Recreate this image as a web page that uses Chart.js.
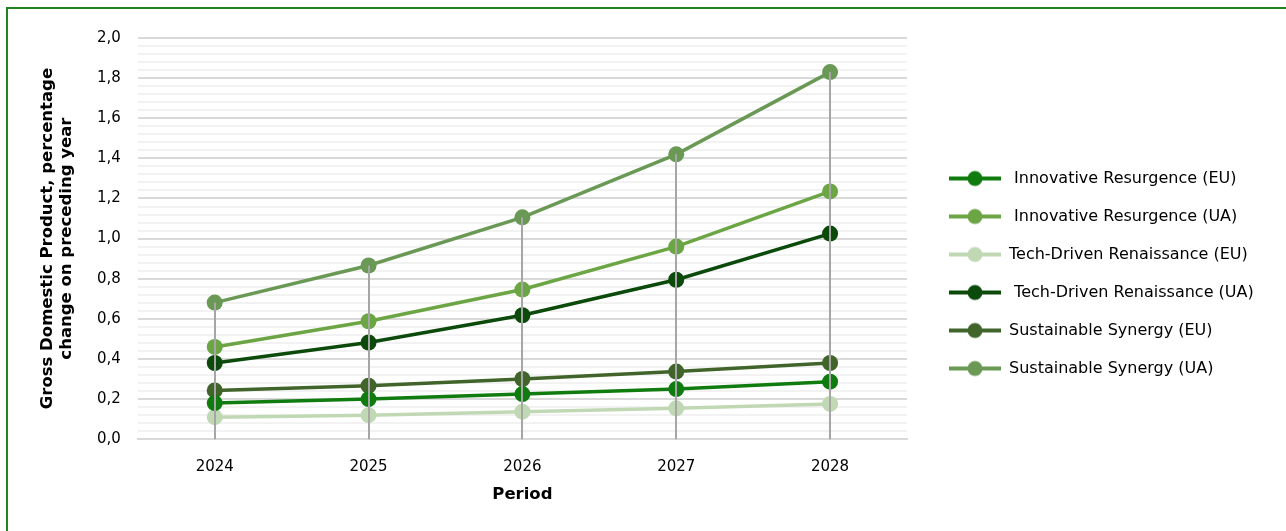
<!DOCTYPE html>
<html>
<head>
<meta charset="utf-8">
<script src="https://cdn.jsdelivr.net/npm/chart.js@4"></script>
<style>
  html, body { margin: 0; padding: 0; background: #fff; overflow: hidden; }
  #frame { position: absolute; left: 6px; top: 7px; width: 1400px; height: 600px; border-top: 2px solid #208420; border-left: 2px solid #208420; }
  #wrap { position: absolute; left: 0; top: 0; width: 1286px; height: 531px; }
</style>
</head>
<body>
<div id="frame"></div>
<div id="wrap"><canvas id="myChart"></canvas></div>
<script>
const years = ['2024', '2025', '2026', '2027', '2028']
const labels = [' Innovative Resurgence (EU)', ' Innovative Resurgence (UA)', 'Tech-Driven Renaissance (EU)', ' Tech-Driven Renaissance (UA)', 'Sustainable Synergy (EU)', 'Sustainable Synergy (UA)']
const innovativeEU = [0.18, 0.20, 0.225, 0.25, 0.287]
const innovativeUA = [0.46, 0.588, 0.746, 0.96, 1.235]
const techEU = [0.11, 0.12, 0.137, 0.154, 0.176]
const techUA = [0.38, 0.482, 0.618, 0.795, 1.025]
const sustainableEU = [0.243, 0.267, 0.30, 0.337, 0.38]
const sustainableUA = [0.681, 0.866, 1.106, 1.42, 1.83]
const colors = ['#107C10', '#6BA544', '#C0D9B4', '#0B4A0B', '#41642A', '#6A9955']

const allSeries = [innovativeEU, innovativeUA, techEU, techUA, sustainableEU, sustainableUA]
const fontFamily = "'DejaVu Sans', sans-serif"
const legendWidth = 379

// legend marker: blank gap on the left, then line with a dot
const legendIcon = function (color) {
  const c = document.createElement('canvas')
  c.width = 72
  c.height = 18
  const g = c.getContext('2d')
  g.strokeStyle = color
  g.lineWidth = 4
  g.beginPath()
  g.moveTo(20, 9)
  g.lineTo(72, 9)
  g.stroke()
  g.fillStyle = color
  g.beginPath()
  g.arc(46, 9, 7.5, 0, Math.PI * 2)
  g.fill()
  return c
}

// drop lines from highest point down to the axis (drawn over the series like excel)
const dropLines = {
  id: 'dropLines',
  afterDatasetsDraw (chart) {
    const ctx = chart.ctx
    const x = chart.scales.x
    const y = chart.scales.y
    ctx.save()
    ctx.strokeStyle = '#A6A6A6'
    ctx.lineWidth = 2
    years.forEach((yr, i) => {
      const top = Math.max(...allSeries.map(s => s[i]))
      const px = Math.round(x.getPixelForValue(i))
      ctx.beginPath()
      ctx.moveTo(px, y.getPixelForValue(top))
      ctx.lineTo(px, y.getPixelForValue(0))
      ctx.stroke()
    })
    ctx.restore()
  }
}

const datasets = allSeries.map((data, i) => ({
  label: labels[i],
  data: data,
  borderColor: colors[i],
  backgroundColor: colors[i],
  borderWidth: 3.5,
  pointStyle: 'circle',
  pointRadius: 8,
  pointHoverRadius: 8,
  pointBorderWidth: 0,
  tension: 0
}))

const ctx = document.getElementById('myChart').getContext('2d')
const chart = new Chart(ctx, {
  type: 'line',
  data: { labels: years, datasets: datasets },
  plugins: [dropLines],
  options: {
    responsive: true,
    maintainAspectRatio: false,
    animation: false,
    layout: { padding: { left: 34, right: 0, top: 38, bottom: 22 } },
    scales: {
      x: {
        offset: true,
        grid: { display: false, drawTicks: false },
        border: { color: '#D9D9D9', width: 2 },
        ticks: { color: '#000', font: { family: fontFamily, size: 15 }, padding: 19 },
        title: { display: true, text: 'Period', color: '#000', font: { family: fontFamily, size: 16.5, weight: 'bold' }, padding: { top: -10 } }
      },
      y: {
        min: 0,
        max: 2,
        afterBuildTicks (axis) {
          const t = []
          for (let i = 0; i <= 50; i++) t.push({ value: i * 0.04, major: i % 5 === 0 })
          axis.ticks = t
        },
        grid: {
          drawTicks: false,
          lineWidth: 2,
          color: c => (c.tick && c.tick.major ? '#D9D9D9' : '#F2F2F2')
        },
        border: { display: false },
        ticks: {
          autoSkip: false,
          color: '#000',
          font: { family: fontFamily, size: 15 },
          padding: 17,
          callback: function (v) {
            const k = Math.round(v * 100)
            if (k % 20 !== 0) return ''
            return (k / 100).toFixed(1).replace('.', ',')
          }
        },
        title: {
          display: true,
          text: ['Gross Domestic Product, percentage', 'change on preceding year'],
          color: '#000',
          font: { family: fontFamily, size: 16.5, weight: 'bold', lineHeight: 1.15 },
          padding: { bottom: 4 }
        }
      }
    },
    plugins: {
      tooltip: { enabled: false },
      legend: {
        position: 'right',
        align: 'center',
        labels: {
          usePointStyle: true,
          pointStyleWidth: 72,
          boxHeight: 18,
          padding: 22,
          color: '#000',
          font: { family: fontFamily, size: 16 },
          generateLabels: function (chart) {
            return chart.data.datasets.map((d, i) => ({
              text: d.label,
              fillStyle: d.borderColor,
              strokeStyle: d.borderColor,
              lineWidth: 0,
              pointStyle: legendIcon(d.borderColor),
              fontColor: '#000',
              datasetIndex: i
            }))
          }
        }
      }
    }
  }
})

// fixed legend width so the plot ends where the reference does
const legendFit = chart.legend.fit
chart.legend.fit = function () {
  legendFit.call(this)
  this.width = legendWidth
}
chart.update()
</script>
</body>
</html>
